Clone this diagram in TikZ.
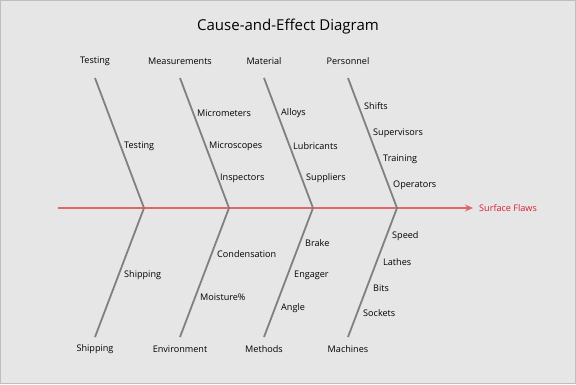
\documentclass[tikz,border=0pt]{standalone}
\usepackage{fontspec}
\setmainfont{Open Sans}
\usetikzlibrary{arrows.meta, positioning}
\definecolor{cBack}{RGB}{230,230,230}
\definecolor{cFrame}{RGB}{190,190,190}
\definecolor{cBone}{RGB}{128,128,128}
\definecolor{cSpine}{RGB}{226,102,102}
\definecolor{cEffect}{RGB}{215,30,50}
\tikzset{
  titlenode/.style={font=\fontsize{15}{18}\selectfont, inner sep=0pt},
  catnode/.style={font=\fontsize{9.1}{11}\selectfont, inner sep=0pt, yshift=-1.5pt},
  causenode/.style={font=\fontsize{9.1}{11}\selectfont, inner sep=0pt, anchor=west,
                    yshift=-1.5pt},
  effectnode/.style={font=\fontsize{9.1}{11}\selectfont, text=cEffect,
                     inner xsep=6pt, inner ysep=0pt, anchor=west},
  bone/.style={line width=1.8pt, color=cBone, line join=miter},
  spine/.style={line width=1.8pt, color=cSpine,
                -{Stealth[length=8pt,width=7pt]}}
}
\begin{document}
\begin{tikzpicture}[x=1pt, y=-1pt]
  \fill[cBack] (0,0) rectangle (576,384);
  \draw[cFrame, line width=1pt] (0.5,0.5) rectangle (575.5,383.5);
  \useasboundingbox (0,0) rectangle (576,384);

  \node[titlenode] (title) at (288,27) {Cause-and-Effect Diagram};

  % spine and effect
  \coordinate (tail) at (58,208);
  \node[effectnode] (effect) at (473,208) {Surface Flaws};
  \draw[spine] (tail) -- (effect);

  % bones: top category, junction on spine, bottom category
  \foreach \x/\up/\down [count=\i] in {95/Testing/Shipping,
      180/Measurements/Environment, 264/Material/Methods, 348/Personnel/Machines} {
    \node[catnode] (top\i) at (\x,60) {\up};
    \node[catnode] (bot\i) at (\x,348) {\down};
    \coordinate (top\i-end) at (\x,78);
    \coordinate (bot\i-end) at (\x,337);
    \coordinate (join\i) at (\x+49,208);
    \draw[bone] (top\i-end) -- (join\i) -- (bot\i-end);
  }

  % causes along the bones
  \foreach \x/\y/\lab [count=\i] in {124/145/Testing,
      197/112/Micrometers, 209/145/Microscopes, 220/177/Inspectors,
      281/112/Alloys, 293/145/Lubricants, 306/177/Suppliers,
      364/105/Shifts, 373/132/Supervisors, 383/158/Training, 393/184/Operators,
      124/274/Shipping, 217/253/Condensation, 200/296/Moisture\%,
      305/242/Brake, 294/274/Engager, 281/307/Angle,
      392/235/Speed, 383/261/Lathes, 373/287/Bits, 363/312/Sockets}
    \node[causenode] (cause\i) at (\x,\y) {\lab};
\end{tikzpicture}
\end{document}
